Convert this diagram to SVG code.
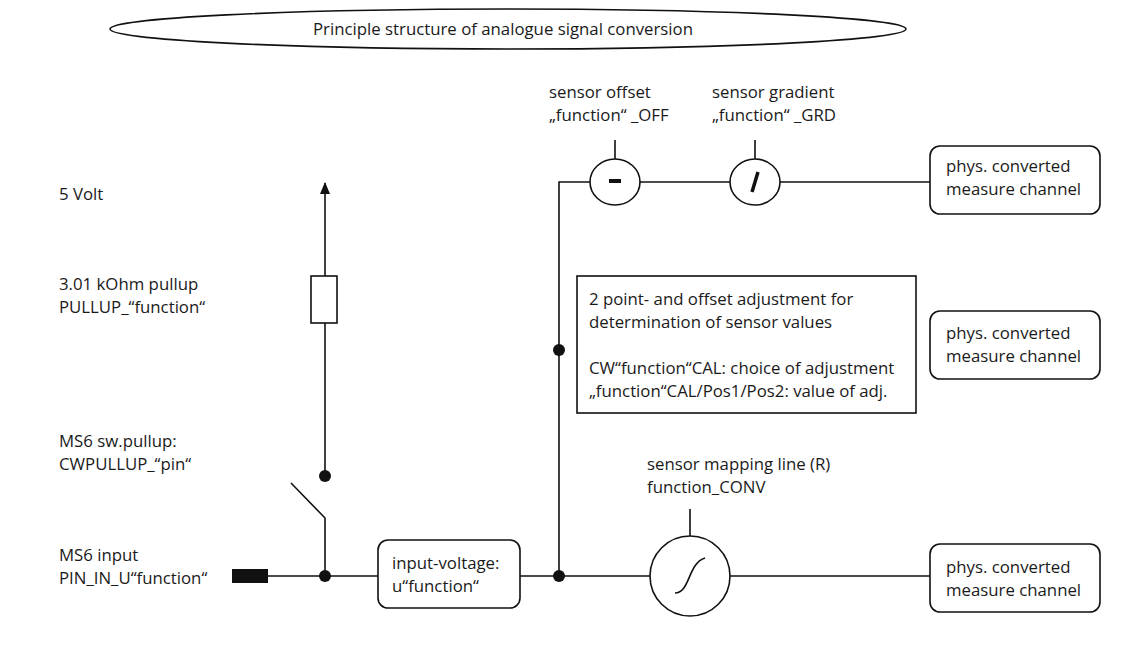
<svg xmlns="http://www.w3.org/2000/svg" width="1130" height="649" viewBox="0 0 1130 649">
<defs>
<style>
text{font-family:"Open Sans","Liberation Sans",sans-serif;font-size:16.8px;fill:#1a1a1a}
.l{stroke:#111;stroke-width:1.6;fill:none}
.b{stroke:#111;stroke-width:1.6;fill:#fff}
.d{fill:#111}
</style>
<marker id="ah" markerWidth="12" markerHeight="10" refX="11" refY="5" orient="auto" markerUnits="userSpaceOnUse"><path d="M0,0 L12,5 L0,10 Z" fill="#111"/></marker>
</defs>
<rect width="1130" height="649" fill="#fff"/>
<g id="title"><ellipse class="b" cx="508" cy="29" rx="398" ry="20"/><text x="503" y="35" text-anchor="middle">Principle structure of analogue signal conversion</text></g>
<g id="labels">
<text x="59" y="200">5 Volt</text>
<text x="59" y="290">3.01 kOhm pullup</text><text x="59" y="313">PULLUP_“function“</text>
<text x="59" y="447">MS6 sw.pullup:</text><text x="59" y="470">CWPULLUP_“pin“</text>
<text x="59" y="561">MS6 input</text><text x="59" y="584">PIN_IN_U“function“</text>
<text x="549" y="98">sensor offset</text><text x="549" y="121">„function“ _OFF</text>
<text x="712" y="98">sensor gradient</text><text x="712" y="121">„function“ _GRD</text>
<text x="647" y="470">sensor mapping line (R)</text><text x="647" y="493">function_CONV</text>
</g>
<g id="connectors">
<path class="l" d="M268,576 H378 M520,576 H650 M730,576 H930"/>
<path class="l" d="M325,576 V518 L291,483"/>
<path class="l" d="M325,476 V183" marker-end="url(#ah)"/>
<path class="l" d="M559,576 V182 H590 M640,182 H730 M780,182 H930"/>
<path class="l" d="M615,140 V159 M755,140 V159 M690,509 V536"/>
</g>
<g id="pin"><rect class="d" x="232" y="569" width="36" height="14"/></g>
<g id="resistor"><rect class="b" x="311" y="276" width="26" height="47"/></g>
<g id="dots"><circle class="d" cx="325" cy="576" r="6"/><circle class="d" cx="325" cy="476" r="6"/><circle class="d" cx="559" cy="576" r="6"/><circle class="d" cx="559" cy="350" r="6"/></g>
<g id="input"><rect class="b" x="378" y="540" width="142" height="68" rx="10"/><text x="392" y="569">input-voltage:</text><text x="392" y="592">u“function“</text></g>
<g id="offset"><ellipse class="b" cx="615" cy="182" rx="25" ry="23"/><rect class="d" x="609" y="179" width="12" height="4"/></g>
<g id="gradient"><ellipse class="b" cx="755" cy="182" rx="25" ry="23"/><path d="M758,172 L752,192" stroke="#111" stroke-width="3.5"/></g>
<g id="conv"><circle class="b" cx="690" cy="576" r="40"/><path class="l" d="M675,593 C690,593 688,563 705,558"/></g>
<g id="adj"><rect class="b" x="577" y="276" width="339" height="137"/>
<text x="589" y="305">2 point- and offset adjustment for</text><text x="589" y="328">determination of sensor values</text>
<text x="589" y="374">CW“function“CAL: choice of adjustment</text><text x="589" y="397">„function“CAL/Pos1/Pos2: value of adj.</text></g>
<g id="out1"><rect class="b" x="930" y="146" width="170" height="68" rx="10"/><text x="946" y="172">phys. converted</text><text x="946" y="195">measure channel</text></g>
<g id="out2"><rect class="b" x="930" y="311" width="170" height="68" rx="10"/><text x="946" y="339">phys. converted</text><text x="946" y="362">measure channel</text></g>
<g id="out3"><rect class="b" x="930" y="544" width="170" height="68" rx="10"/><text x="946" y="573">phys. converted</text><text x="946" y="596">measure channel</text></g>
</svg>
